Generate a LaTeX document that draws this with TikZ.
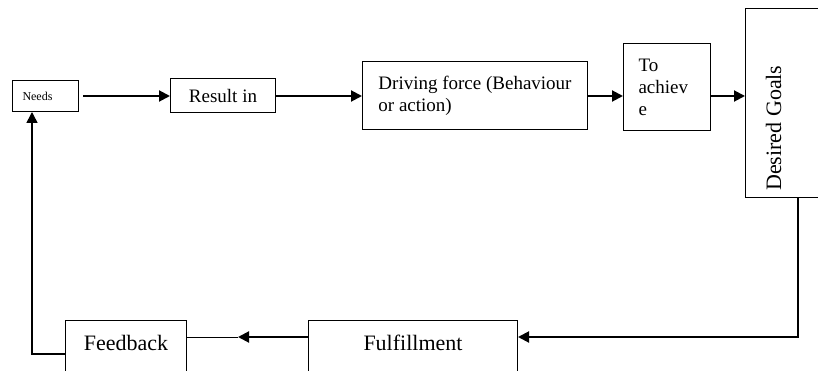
\documentclass[tikz,border=0pt]{standalone}
\usepackage{fontspec}
\setmainfont{Liberation Serif}
\usetikzlibrary{arrows.meta,positioning}

\begin{document}
\begin{tikzpicture}[
  x=1pt, y=-1pt,
  box/.style={draw, line width=1pt, inner sep=0pt},
  arr/.style={-{Triangle[length=11pt,width=11pt]}, line width=2pt},
  bigtext/.style={font=\fontsize{22}{26}\selectfont},
  midtext/.style={font=\fontsize{19}{22}\selectfont}
]
\clip (0,0) rectangle (818,371);

% top row
\node[box, font=\fontsize{12}{14}\selectfont, anchor=north west, minimum height=31pt,
      text width=46pt, inner xsep=10pt, align=left] (needs) at (12,80) {Needs};
\node[box, midtext, minimum width=105pt, minimum height=34pt, right=91pt of needs] (result) {Result in};
\node[box, midtext, minimum width=225pt, minimum height=68pt, align=left,
      right=86pt of result] (driving) {Driving force (Behaviour\\or action)};
\node[box, midtext, minimum height=87pt, text width=57pt, inner xsep=15pt, align=left,
      right=35pt of driving, yshift=9pt] (achieve) {To\\achiev\\e};
\node[box, minimum width=104pt, minimum height=189pt, right=34pt of achieve, yshift=-16pt] (goals) {};
\node[bigtext, rotate=90, anchor=base west, inner sep=0pt] (goalstext)
      at ([xshift=36pt, yshift=7pt]goals.south west) {Desired Goals};

% bottom row
\node[box, bigtext, anchor=north west, minimum width=209pt, text height=30pt, text depth=25pt]
      (fulfil) at (308,320) {Fulfillment};
\node[box, bigtext, minimum width=121pt, text height=30pt, text depth=25pt,
      left=121pt of fulfil] (feedback) {Feedback};

\draw[arr, shorten <=4pt] (needs) -- (result);
\draw[arr] (result) -- (driving);
\draw[arr] (driving.east) -- (driving.east -| achieve.west);
\draw[arr] (achieve.east |- driving.east) -- (driving.east -| goals.west);

\draw[arr] (goals.south) |- ([yshift=-17pt]fulfil.north east);
\draw[arr] ([yshift=-17pt]fulfil.north west) -- ++(-70,0) coordinate (fm);
\draw[line width=1pt] (fm) -- (fm -| feedback.east);
\draw[arr, line width=1.5pt] ([yshift=-34pt]feedback.north west) -| ([xshift=-13.5pt]needs.south);
\end{tikzpicture}
\end{document}
